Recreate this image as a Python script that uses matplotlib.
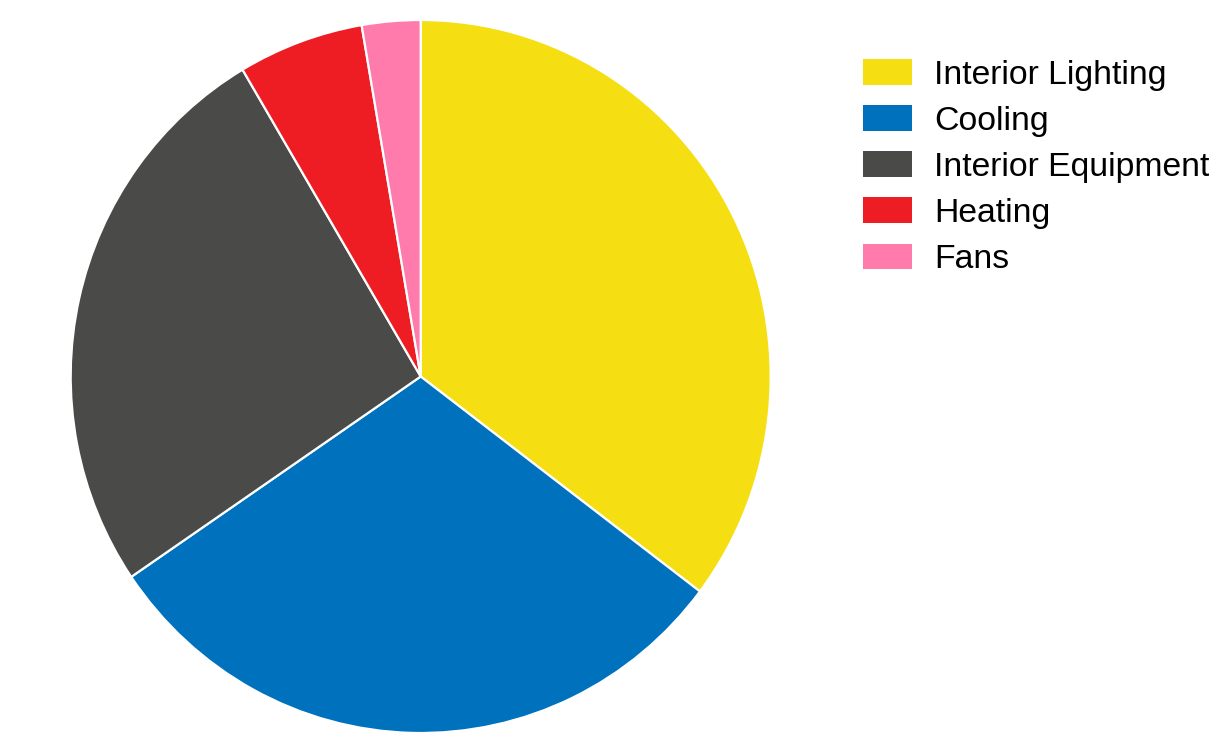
import matplotlib.pyplot as plt
from matplotlib.patches import Patch

# end use breakdown, share of total
labels = ['Interior Lighting', 'Cooling', 'Interior Equipment', 'Heating', 'Fans']
shares = [35.3, 30.2, 26.0, 5.8, 2.7]
colors = ['#F5DF12', '#0071BD', '#4A4B49', '#EE1D24', '#FF7BAC']

fig = plt.figure(figsize=(12.09, 7.35), dpi=100)
W, H = 1209, 735
# pie box in pixels (slightly taller than wide)
cx, cy, rx, ry = 420.7, 376.5, 350, 356.5
ax = fig.add_axes([(cx - rx) / W, (H - cy - ry) / H, 2 * rx / W, 2 * ry / H])
ax.pie(shares, colors=colors, startangle=90, counterclock=False, radius=1,
       wedgeprops=dict(edgecolor='white', linewidth=1.6))
ax.set_xlim(-1, 1)
ax.set_ylim(-1, 1)
ax.set_aspect('auto')
ax.axis('off')

handles = [Patch(facecolor=c, edgecolor='none') for c in colors]
fig.legend(handles, labels, loc='upper left', bbox_to_anchor=(863 / W, 1 - 59 / H),
           frameon=False, prop={'family': 'Liberation Sans', 'size': 24.3},
           handlelength=1.45, handleheight=0.8, handletextpad=0.65,
           labelspacing=0.43, borderpad=0, borderaxespad=0)

fig.savefig('out.png', dpi=100)
